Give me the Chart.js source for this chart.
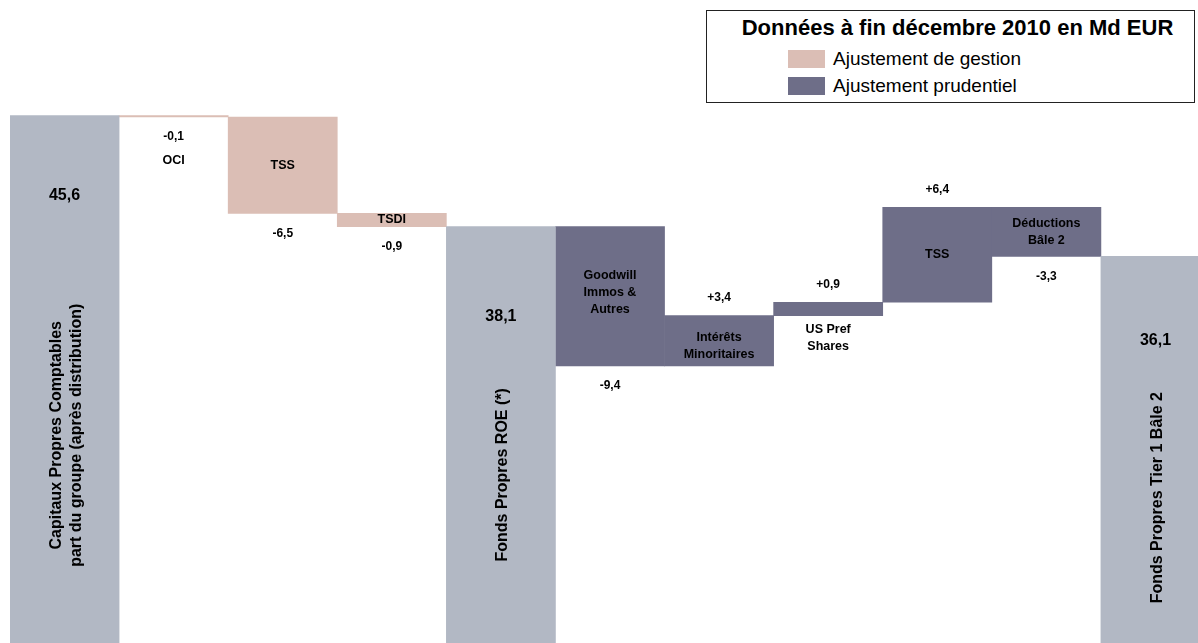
<!DOCTYPE html>
<html><head><meta charset="utf-8">
<script src="https://cdn.jsdelivr.net/npm/chart.js@4/dist/chart.umd.min.js"></script>
<style>
html,body{margin:0;padding:0;overflow:hidden;background:#fff;width:1198px;height:643px;}
#wrap{position:relative;width:1198px;height:643px;overflow:hidden;}
#c{position:absolute;left:0;top:0;}
#legend{position:absolute;left:706px;top:10px;width:487px;height:91px;border:1px solid #222;background:#fff;font-family:"Liberation Sans",Arial,sans-serif;color:#000;}
#legend .title{position:absolute;left:0;right:0;top:4px;text-align:center;font-weight:bold;font-size:22px;line-height:26px;padding-left:14px;}
#legend .sw{position:absolute;left:81px;width:37px;height:18px;}
#legend .lb{position:absolute;left:126px;font-size:19px;line-height:22px;}
</style>
</head><body>
<div id="wrap">
<canvas id="c" width="1210" height="643"></canvas>
<div id="legend">
  <div class="title" id="ttl"></div>
  <div class="sw" id="sw1" style="top:39px"></div><div class="lb" id="lb1" style="top:37px"></div>
  <div class="sw" id="sw2" style="top:66px"></div><div class="lb" id="lb2" style="top:64px"></div>
</div>
</div>
<script>
// ---- data ----
const categories = [
  "Capitaux Propres Comptables\npart du groupe (après distribution)",
  "OCI", "TSS", "TSDI",
  "Fonds Propres ROE (*)",
  "Goodwill\nImmos &\nAutres", "Intérêts\nMinoritaires", "US Pref\nShares", "TSS", "Déductions\nBâle 2",
  "Fonds Propres Tier 1 Bâle 2"
];
const totals     = [45.6, null, null, null, 38.1, null, null, null, null, null, 36.1];
const gestion    = [null, -0.1, -6.5, -0.9, null, null, null, null, null, null, null];
const prudentiel = [null, null, null, null, null, -9.4, 3.4, 0.9, 6.4, -3.3, null];
const seriesNames = ["Total", "Ajustement de gestion", "Ajustement prudentiel"];
const legendTitle = "Données à fin décembre 2010 en Md EUR";

// ---- styling ----
const colors = { total: '#b2b8c4', gestion: '#dbbeb5', prudentiel: '#6e6e88' };
const catPlacement = ['rot','below','inside','inside','rot','inside','inside','below','inside','inside','rot'];
const catShift = [0, 0, 0, 0, 0, -4, 5, 0, 0, 0, 0];
const rotShift = [14, -2, 6];
const totalValShift = [-4, 6, 0];
const FONT = '"Liberation Sans", Arial, sans-serif';

// ---- waterfall build ----
const totalBars = [], gestionBars = [], prudBars = [];
let running = 0;
for (let i = 0; i < categories.length; i++) {
  if (totals[i] != null) {
    totalBars.push([0, totals[i]]); gestionBars.push(null); prudBars.push(null);
    running = totals[i];
  } else {
    const d = gestion[i] != null ? gestion[i] : prudentiel[i];
    const bar = [Math.round(running*10)/10, Math.round((running + d)*10)/10];
    totalBars.push(null);
    gestionBars.push(gestion[i] != null ? bar : null);
    prudBars.push(prudentiel[i] != null ? bar : null);
    running += d;
  }
}
function fmt(v, signed) {
  const s = Math.abs(v).toFixed(1).replace('.', ',');
  if (!signed) return s;
  return (v < 0 ? '-' : '+') + s;
}

document.getElementById('ttl').textContent = legendTitle;
document.getElementById('sw1').style.background = colors.gestion;
document.getElementById('sw2').style.background = colors.prudentiel;
document.getElementById('lb1').textContent = seriesNames[1];
document.getElementById('lb2').textContent = seriesNames[2];

const labelPlugin = {
  id: 'wfLabels',
  afterDatasetsDraw(chart) {
    const ctx = chart.ctx;
    const area = chart.chartArea;
    ctx.save();
    ctx.fillStyle = '#000';
    ctx.textAlign = 'center';
    ctx.textBaseline = 'middle';
    let totalIdx = 0;
    for (let i = 0; i < categories.length; i++) {
      let el = null, dsIndex = -1;
      for (let d = 0; d < 3; d++) {
        const e = chart.getDatasetMeta(d).data[i];
        if (chart.data.datasets[d].data[i] != null && e) { el = e; dsIndex = d; }
      }
      if (!el) continue;
      const top = Math.max(area.top, Math.min(el.y, el.base));
      const bottom = Math.min(area.bottom, Math.max(el.y, el.base));
      const x = el.x;
      const lines = categories[i].split('\n');
      if (dsIndex === 0) {
        const vy = top + 84 + totalValShift[totalIdx];
        ctx.font = 'bold 16px ' + FONT;
        ctx.fillText(fmt(totals[i], false), x, vy);
        const cy = (top + 84 + bottom) / 2 + rotShift[totalIdx];
        ctx.save();
        ctx.translate(x + 2, cy);
        ctx.rotate(-Math.PI / 2);
        ctx.font = 'bold 16px ' + FONT;
        const lh = 20;
        lines.forEach((ln, k) => {
          ctx.fillText(ln, 0, (k - (lines.length - 1) / 2) * lh);
        });
        ctx.restore();
        totalIdx++;
      } else {
        const d = gestion[i] != null ? gestion[i] : prudentiel[i];
        ctx.font = 'bold 12px ' + FONT;
        let vy, nextBelow = bottom + 14;
        if (d < 0) { vy = bottom + 20; nextBelow = vy + 24; }
        else { vy = top - 18; }
        ctx.fillText(fmt(d, true), x, vy);
        ctx.font = 'bold 12.5px ' + FONT;
        const lh = 17;
        if (catPlacement[i] === 'inside') {
          const cy = (top + bottom) / 2 + catShift[i];
          lines.forEach((ln, k) => ctx.fillText(ln, x, cy + (k - (lines.length - 1) / 2) * lh));
        } else {
          lines.forEach((ln, k) => ctx.fillText(ln, x, nextBelow + k * lh));
        }
      }
    }
    ctx.restore();
  }
};

new Chart(document.getElementById('c'), {
  type: 'bar',
  data: {
    labels: categories,
    datasets: [
      { label: seriesNames[0], data: totalBars, backgroundColor: colors.total },
      { label: seriesNames[1], data: gestionBars, backgroundColor: colors.gestion },
      { label: seriesNames[2], data: prudBars, backgroundColor: colors.prudentiel }
    ].map(ds => Object.assign(ds, { grouped: false, barPercentage: 1, categoryPercentage: 1, borderWidth: 0 }))
  },
  options: {
    responsive: false,
    animation: false,
    layout: { padding: { left: 10, right: 0, top: 0, bottom: 0 } },
    plugins: { legend: { display: false }, tooltip: { enabled: false }, title: { display: false } },
    scales: {
      x: { display: false, offset: true, grid: { display: false } },
      y: { display: false, min: 10, max: 53.4, grid: { display: false } }
    }
  },
  plugins: [labelPlugin]
});
</script>
</body></html>
